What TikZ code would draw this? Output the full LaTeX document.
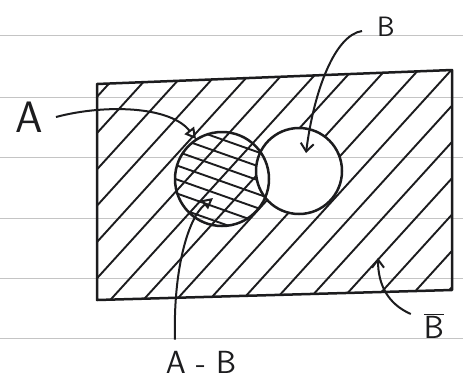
\documentclass[tikz,border=0pt]{standalone}
\usetikzlibrary{arrows.meta}
\definecolor{Ink}{RGB}{28,28,30}
\definecolor{RuleGrey}{RGB}{196,196,196}

\begin{document}
\begin{tikzpicture}[x=1pt, y=-1pt,
    every node/.style={font=\sffamily\fontsize{32}{34}\selectfont, text=Ink, inner sep=1pt},
    boxline/.style={Ink, line width=2.5pt, line join=round},
    hatchline/.style={Ink, line width=1.9pt, line cap=round},
    paperline/.style={RuleGrey, line width=1pt},
    pointer/.style={Ink, line width=2pt}]
  \useasboundingbox (0,0) rectangle (463,381);
  \fill[white] (0,0) rectangle (463,381);
  % ruled paper
  \foreach \y in {35,97,157,218,278,338}
    \draw[paperline] (0,\y) -- (463,\y);

  \coordinate (cA) at (222,179);
  \coordinate (cB) at (299,171);

  % complement of B
  \begin{scope}[even odd rule]
    \clip (97,84) -- (452,70) -- (452,290) -- (97,300) -- cycle
      (cB) circle[radius=43pt];
    \foreach \c in {185,218,...,760}
      \draw[hatchline] (\c,0) -- (\c-300,330);
  \end{scope}
  % A - B
  \begin{scope}[even odd rule]
    \clip (cA) circle[radius=47pt];
    \clip (0,0) rectangle (463,381) (cB) circle[radius=43pt];
    \foreach \c in {48,62,...,160}
      \draw[hatchline] (150,\c+52) -- (300,\c+105);
  \end{scope}

  \draw[boxline] (cA) circle[radius=47pt];
  \draw[boxline] (cB) circle[radius=43pt];
  \draw[boxline] (97,84) -- (452,70) -- (452,290) -- (97,300) -- cycle;

  \node (labA) at (29,117) {\fontsize{44}{46}\selectfont A};
  \node (labB) at (386,27) {\fontsize{28}{30}\selectfont B};
  \node (labAB) at (201,362) {A - B};
  \node (labBbar) at (434,326) {$\overline{\mbox{B}}$};

  \coordinate (aTip) at (196,139);
  \coordinate (bTip) at (306,153);
  \coordinate (abTip) at (213,198);
  \coordinate (bbarTip) at (378,258);

  \draw[pointer, -{Triangle[open, length=11pt, width=12pt, line width=2pt]}]
    ([xshift=12pt]labA.east) .. controls (105,104) and (170,106) .. (aTip);
  \draw[pointer, -{Straight Barb[length=8pt, width=13pt, line width=2pt]}]
    ([xshift=-14pt, yshift=-4pt]labB.west) .. controls (335,35) and (314,90) .. (bTip);
  \draw[pointer, -{Triangle[open, length=11pt, width=11pt, line width=2pt]}]
    ([xshift=-26pt, yshift=10pt]labAB.north) .. controls (173,270) and (188,218) .. (abTip);
  \draw[pointer, -{Straight Barb[length=8pt, width=12pt, line width=2pt]}]
    ([xshift=-12pt, yshift=12pt]labBbar.west) .. controls (388,304) and (378,285) .. (bbarTip);
\end{tikzpicture}
\end{document}
